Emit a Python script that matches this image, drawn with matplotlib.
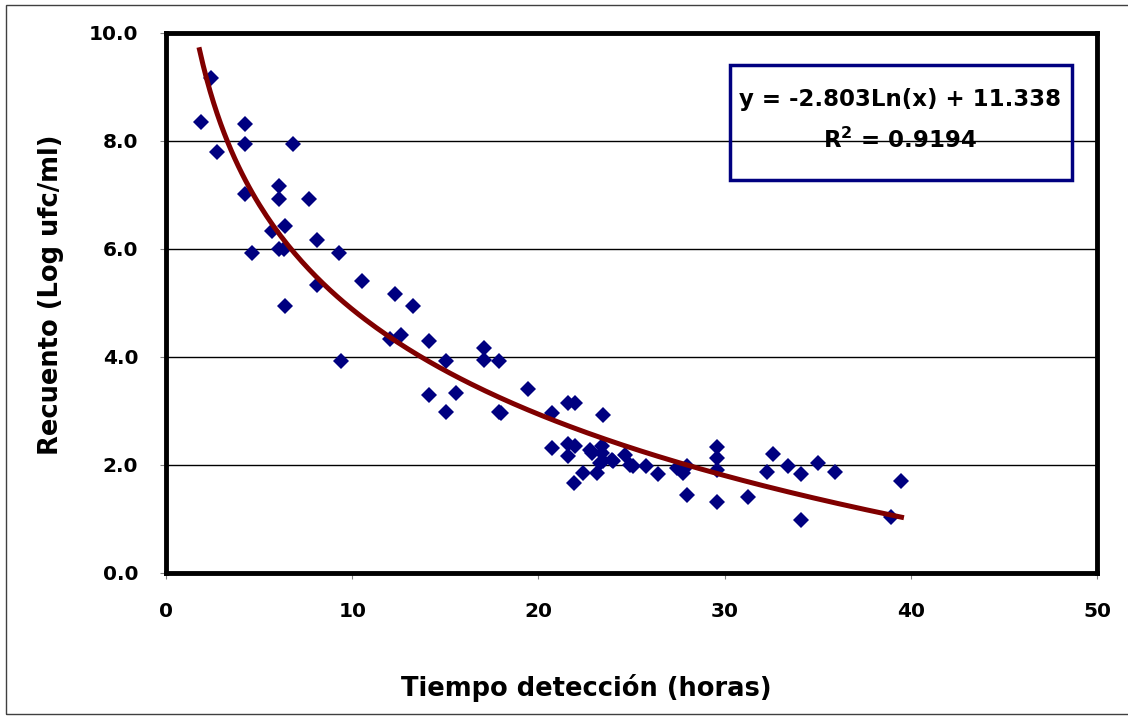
import matplotlib.pyplot as plt
import numpy as np
from matplotlib.patches import Rectangle

plt.rcParams['font.family'] = ['DejaVu Sans']
plt.rcParams['font.weight'] = 'bold'

# datos
tiempo = [1.9, 2.4, 2.75, 4.25, 4.25, 4.25, 4.6, 5.7, 6.05, 6.05, 6.05, 6.4, 6.35,
          6.4, 6.8, 7.7, 8.1, 8.1, 9.3, 9.4, 10.55, 12.05, 12.3, 12.6, 13.25, 14.1,
          14.1, 15.05, 15.05, 15.6, 17.1, 17.1, 17.9, 17.9, 18.0, 19.45, 20.75, 20.75,
          21.6, 21.95, 21.6, 21.95, 21.6, 21.93, 22.4, 22.77, 22.86, 23.13, 23.4, 23.4,
          23.47, 23.3, 23.45, 23.94, 24.0, 24.65, 24.9, 25.07, 25.8, 26.44, 27.43,
          27.78, 27.96, 27.96, 29.6, 29.6, 29.6, 29.6, 31.25, 32.3, 32.6, 33.4, 34.1,
          34.1, 35.0, 35.95, 38.95, 39.5]
recuento = [8.35, 9.16, 7.79, 8.31, 7.94, 7.01, 5.93, 6.33, 7.17, 6.93, 6.00, 6.43, 6.00,
            4.94, 7.94, 6.93, 6.16, 5.33, 5.93, 3.93, 5.41, 4.33, 5.16, 4.41, 4.94, 4.30,
            3.29, 3.93, 2.99, 3.33, 4.16, 3.95, 3.93, 2.99, 2.96, 3.40, 2.97, 2.32,
            3.15, 3.15, 2.38, 2.36, 2.16, 1.67, 1.85, 2.28, 2.23, 1.85, 2.35, 2.22,
            2.07, 2.04, 2.92, 2.10, 2.07, 2.19, 2.00, 1.98, 1.99, 1.84, 1.95,
            1.85, 1.98, 1.45, 2.34, 2.13, 1.91, 1.31, 1.40, 1.87, 2.21, 1.99, 1.84,
            0.99, 2.03, 1.87, 1.03, 1.70]
a, b = -2.803, 11.338
x_min, x_max = 1.8, 39.5

fig = plt.figure(figsize=(11.28, 7.17), dpi=100)
ax = fig.add_axes([166/1128, 1 - 573/717, (1097 - 166)/1128, (573 - 33)/717])

ax.plot(tiempo, recuento, 'D', color='#000080', markersize=8.5, markeredgewidth=0, zorder=3)
x_plot = np.linspace(x_min, x_max, 200)
ax.plot(x_plot, a*np.log(x_plot) + b, '-', color='#800000', linewidth=3.6, zorder=4)

ax.set_xlim(0, 50)
ax.set_ylim(0, 10)
ax.set_xticks(np.arange(0, 51, 10))
ax.set_yticks(np.arange(0, 10.1, 2))
ax.set_yticklabels(['%.1f' % v for v in np.arange(0, 10.1, 2)])
ax.yaxis.grid(True, color='black', linewidth=1)
ax.set_axisbelow(True)
for s in ax.spines.values():
    s.set_linewidth(3.5)
ax.tick_params(labelsize=14.5, length=4, width=0.8, color='gray')
ax.tick_params(axis='y', pad=16)
ax.tick_params(axis='x', pad=17)
for lab in ax.get_xticklabels() + ax.get_yticklabels():
    lab.set_fontweight('bold')

ax.set_xlabel('Tiempo detección (horas)', fontsize=18.5, fontweight='bold', va='center')
ax.xaxis.set_label_coords(0.451, -0.213)
ax.set_ylabel('Recuento (Log ufc/ml)', fontsize=18.5, fontweight='bold', va='center')
ax.yaxis.set_label_coords(-0.124, 0.515)

# cuadro de la ecuacion
ax.add_patch(Rectangle((0.606, 0.728), 0.367, 0.213, transform=ax.transAxes, fill=False,
                       edgecolor='#000080', linewidth=2.5, zorder=5))
ax.text(0.788, 0.876, 'y = -2.803Ln(x) + 11.338', transform=ax.transAxes,
        ha='center', va='center', fontsize=16.5, fontweight='bold', zorder=5)
ax.text(0.788, 0.802, 'R$^\\mathbf{2}$ = 0.9194', transform=ax.transAxes,
        ha='center', va='center', fontsize=16.5, fontweight='bold', zorder=5)

fig.patches.append(Rectangle((6/1128, 3/717), 1.1, 709/717, transform=fig.transFigure,
                             fill=False, edgecolor='#404040', linewidth=1))

plt.savefig('out.png', dpi=100)
